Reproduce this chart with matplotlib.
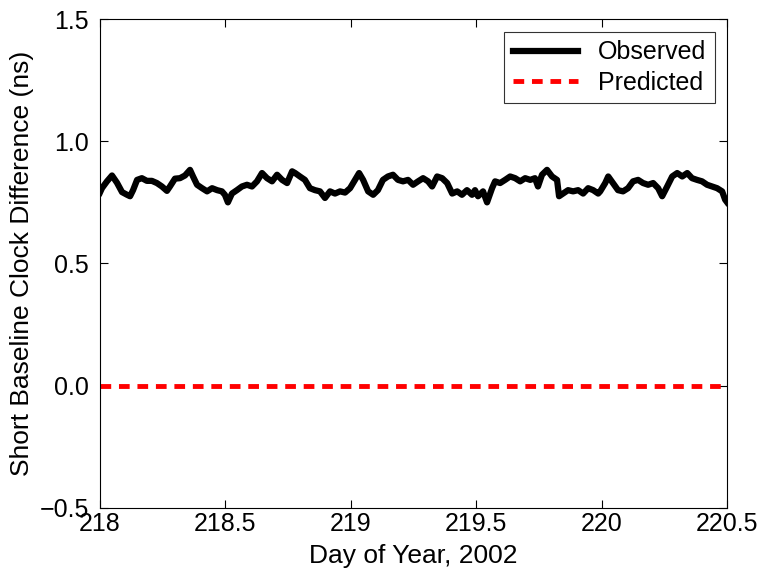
import matplotlib
matplotlib.use('agg')
import matplotlib.pyplot as plt
import numpy as np

# observed clock difference (day of year, ns)
obs_day = [218.000, 218.008, 218.028, 218.048, 218.068, 218.088, 218.108, 218.120, 218.132,
           218.148, 218.167, 218.187, 218.207, 218.227, 218.247, 218.267, 218.279, 218.299,
           218.319, 218.339, 218.359, 218.371, 218.387, 218.407, 218.427, 218.447, 218.467,
           218.486, 218.498, 218.510, 218.526, 218.546, 218.566, 218.586, 218.606, 218.626,
           218.646, 218.666, 218.686, 218.706, 218.726, 218.746, 218.766, 218.778, 218.797,
           218.817, 218.837, 218.857, 218.877, 218.897, 218.917, 218.937, 218.957, 218.977,
           218.997, 219.017, 219.033, 219.049, 219.069, 219.089, 219.108, 219.128, 219.148,
           219.168, 219.188, 219.208, 219.228, 219.248, 219.268, 219.288, 219.308, 219.324,
           219.344, 219.364, 219.384, 219.404, 219.424, 219.443, 219.463, 219.483, 219.495,
           219.507, 219.527, 219.543, 219.563, 219.575, 219.595, 219.615, 219.635, 219.655,
           219.675, 219.695, 219.715, 219.734, 219.746, 219.762, 219.782, 219.802, 219.822,
           219.830, 219.846, 219.866, 219.886, 219.906, 219.926, 219.946, 219.966, 219.986,
           219.994, 220.014, 220.026, 220.045, 220.065, 220.085, 220.105, 220.125, 220.145,
           220.165, 220.185, 220.205, 220.225, 220.241, 220.261, 220.281, 220.301, 220.321,
           220.341, 220.360, 220.380, 220.400, 220.420, 220.440, 220.460, 220.480, 220.492,
           220.500]
obs_val = [0.790, 0.808, 0.836, 0.860, 0.830, 0.792, 0.781, 0.775, 0.800,
           0.842, 0.849, 0.838, 0.838, 0.829, 0.815, 0.797, 0.815, 0.847,
           0.849, 0.860, 0.883, 0.856, 0.822, 0.808, 0.795, 0.808, 0.800,
           0.795, 0.781, 0.750, 0.786, 0.800, 0.815, 0.822, 0.815, 0.836,
           0.870, 0.849, 0.836, 0.863, 0.842, 0.829, 0.877, 0.870, 0.856,
           0.842, 0.808, 0.800, 0.795, 0.768, 0.795, 0.786, 0.795, 0.790,
           0.808, 0.842, 0.870, 0.842, 0.795, 0.781, 0.800, 0.842, 0.856,
           0.863, 0.842, 0.836, 0.842, 0.822, 0.836, 0.849, 0.836, 0.815,
           0.856, 0.849, 0.829, 0.786, 0.795, 0.781, 0.800, 0.781, 0.800,
           0.775, 0.795, 0.750, 0.808, 0.836, 0.829, 0.842, 0.856, 0.849,
           0.836, 0.849, 0.842, 0.849, 0.815, 0.863, 0.883, 0.856, 0.842,
           0.775, 0.786, 0.800, 0.795, 0.800, 0.786, 0.808, 0.800, 0.786,
           0.795, 0.829, 0.856, 0.829, 0.800, 0.795, 0.808, 0.836, 0.842,
           0.829, 0.822, 0.829, 0.808, 0.775, 0.815, 0.856, 0.870, 0.856,
           0.870, 0.849, 0.842, 0.836, 0.822, 0.815, 0.808, 0.795, 0.761,
           0.750]

# predicted difference is zero over the whole span
pred_day = [218.0, 220.5]
pred_val = [0.0, 0.0]

xticks = [218, 218.5, 219, 219.5, 220, 220.5]
xtick_labels = ['218', '218.5', '219', '219.5', '220', '220.5']
yticks = [-0.5, 0.0, 0.5, 1.0, 1.5]
ytick_labels = ['\u22120.5', '0.0', '0.5', '1.0', '1.5']

plt.rcParams['font.family'] = ['Liberation Sans', 'DejaVu Sans']

fig = plt.figure(figsize=(7.63, 5.79), dpi=100)
ax = fig.add_axes([0.131, 0.123, 0.822, 0.844])

ax.plot(obs_day, obs_val, color='black', linewidth=4.5, label='Observed')
ax.plot(pred_day, pred_val, color='red', linewidth=3.5, linestyle=(0, (2.2, 1.6)),
        label='Predicted')

ax.set_xlim(218, 220.5)
ax.set_ylim(-0.5, 1.5)
ax.set_xticks(xticks)
ax.set_xticklabels(xtick_labels)
ax.set_yticks(yticks)
ax.set_yticklabels(ytick_labels)
ax.tick_params(direction='in', top=True, right=True, length=6, width=0.8,
               labelsize=18)
ax.tick_params(axis='y', pad=8)
ax.tick_params(axis='x', pad=3)
for s in ax.spines.values():
    s.set_linewidth(0.8)

ax.set_xlabel('Day of Year, 2002', fontsize=19, labelpad=6)
ax.set_ylabel('Short Baseline Clock Difference (ns)', fontsize=19, labelpad=4)

leg = ax.legend(loc='upper right', fontsize=18, frameon=True, fancybox=False,
                edgecolor='black', handlelength=2.6, borderpad=0.35,
                labelspacing=0.25, borderaxespad=0.5)
leg.get_frame().set_linewidth(0.8)

plt.savefig('out.png', dpi=100)
